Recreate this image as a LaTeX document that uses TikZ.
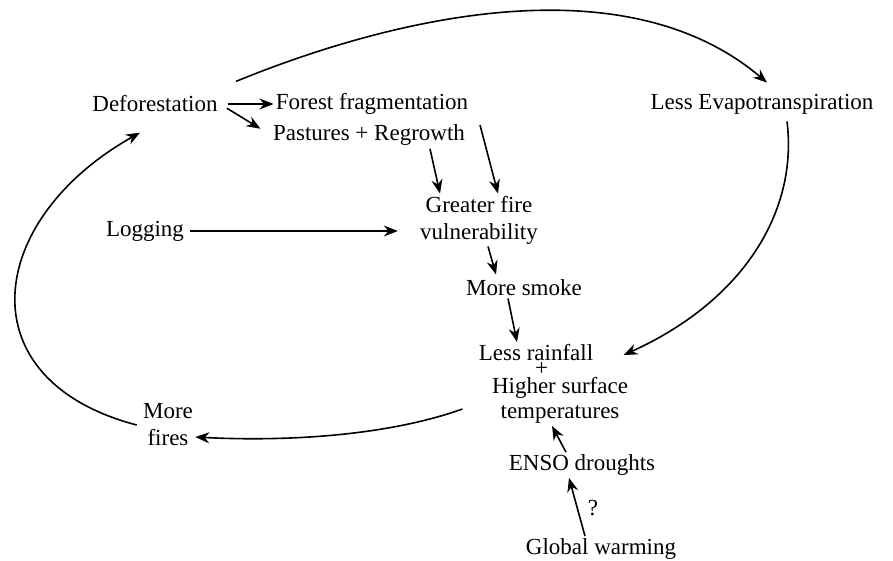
\documentclass[tikz,border=0pt]{standalone}
\usepackage{fontspec}
\setmainfont{Liberation Serif}
\usetikzlibrary{arrows.meta}
\begin{document}
\begin{tikzpicture}[x=0.5pt,y=-0.5pt,every node/.style={inner sep=1pt,font=\fontsize{11.5}{13.5}\selectfont,align=center}]
\tikzstyle{arrow}=[draw,line width=0.8pt,-{Stealth[length=7pt,width=5.5pt]}]
\useasboundingbox (0,0) rectangle (893,561);

\node(defor) at (155,104){Deforestation};
\node(frag) at (372,104){Forest fragmentation};
\node(past) at (369,135){Pastures + Regrowth};
\node(evap) at (762,104){Less Evapotranspiration};

\node(log) at (145,231){Logging};
\node(vuln) at (479,220){Greater fire\\vulnerability};
\node(smoke) at (524,288){More smoke};

\node(rain) at (560,384){Less rainfall\hspace*{24pt}\\[-6pt]\makebox[0pt][r]{+\hspace{6pt}}\\[-4.5pt]Higher surface\\[-1pt]temperatures};
\node(fires) at (168,425){More\\fires};

\node(enso) at (582,465){ENSO droughts};
\node(glob) at (601,549){Global warming};
\node(q) at (593,508){?};

% top loop
\path[arrow]([shift={(16,-12)}]defor.north east) .. controls (386,20) and (622,-40) .. ([shift={(5,-9)}]evap.north);
\path[arrow]([shift={(25,5)}]evap.south) .. controls (798,210) and (745,300) .. ([shift={(-20,13)}]rain.north east);

% deforestation
\path[arrow,shorten <=4pt](defor.east)--(frag.west);
\path[arrow,shorten <=4pt,shorten >=6pt](defor.east)--(past.west);
\path[arrow]([shift={(61,1)}]past.south)--([shift={(-39,0)}]vuln.north);
\path[arrow]([shift={(108,8)}]frag.south)--([shift={(19,0)}]vuln.north);
\path[arrow,shorten <=2pt,shorten >=10pt](log.east)--(log.east -| vuln.west);

% smoke chain
\path[arrow]([shift={(9,0)}]vuln.south)--([shift={(-28,-3)}]smoke.north);
\path[arrow]([shift={(-16,0)}]smoke.south)--([shift={(-43,0)}]rain.north);

% fires loop
\path[arrow]([shift={(-14,25)}]rain.west) .. controls (390,435) and (290,442) .. ([shift={(0,12)}]fires.east);
\path[arrow]([shift={(-4,0)}]fires.west) .. controls (-35,380) and (-15,220) .. ([shift={(-15,18)}]defor.south);

% droughts
\path[arrow]([shift={(-16,0)}]enso.north)--([shift={(-8,0)}]rain.south);
\path[arrow]([shift={(-16,0)}]glob.north)--([shift={(-13,0)}]enso.south);
\end{tikzpicture}
\end{document}
